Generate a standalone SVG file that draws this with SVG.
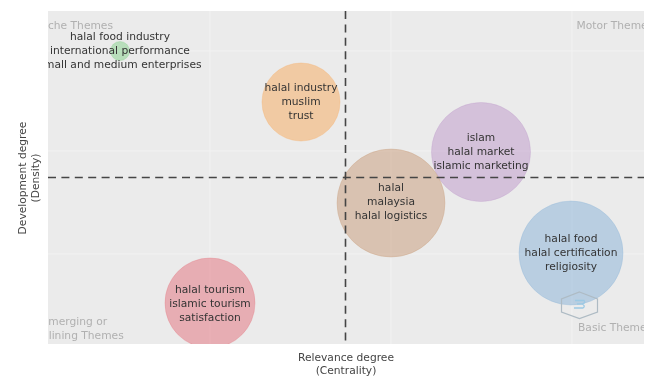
<svg xmlns="http://www.w3.org/2000/svg" width="651" height="376" viewBox="0 0 651 376">
<style>
text{font-family:"DejaVu Sans",Verdana,sans-serif;font-size:10.7px;fill:#333;text-anchor:middle}
.q{fill:#b0b0b0;text-anchor:start}
.ax{fill:#444}
.grid{stroke:#f2f2f2;stroke-width:1;fill:none}
.dash{stroke:#444;stroke-width:1.6;stroke-dasharray:8 5.4;fill:none}
.b{stroke-width:1;stroke-opacity:.3;fill-opacity:.5}
</style>
<defs>
<clipPath id="plot"><rect x="48" y="11" width="596" height="333"/></clipPath>
<filter id="soft" x="0" y="0" width="100%" height="100%"><feGaussianBlur stdDeviation="0.35"/></filter>
</defs>
<rect width="651" height="376" fill="#fff"/>
<g filter="url(#soft)">
<rect id="panel" x="48" y="11" width="596" height="333" fill="#ebebeb"/>
<g id="gridlines" class="grid">
<path d="M210 11V344M391 11V344M572 11V344M48 51H644M48 151H644M48 254H644"/>
</g>
<g clip-path="url(#plot)">
<g id="quadrant-labels">
<text class="q" x="37" y="29">Niche Themes</text>
<text class="q" x="576.500" y="29">Motor Themes</text>
<text class="q" x="41.500" y="325">Emerging or</text>
<text class="q" x="28" y="339">Declining Themes</text>
<text class="q" x="578" y="331">Basic Themes</text>
</g>
<g id="node-red">
<circle class="b" cx="210" cy="303" r="45" fill="#e46f7c" stroke="#e46f7c"/>
<text x="210" y="293">halal tourism</text><text x="210" y="307">islamic tourism</text><text x="210" y="321">satisfaction</text>
</g>
<g id="node-green">
<circle class="b" cx="120" cy="51" r="9.500" fill="#86d18c" stroke="#86d18c"/>
<text x="120" y="40">halal food industry</text><text x="120" y="54">international performance</text><text x="120" y="68">small and medium enterprises</text>
</g>
<g id="node-orange">
<circle class="b" cx="301" cy="102" r="39" fill="#f7a95c" stroke="#f7a95c"/>
<text x="301" y="91">halal industry</text><text x="301" y="105">muslim</text><text x="301" y="119">trust</text>
</g>
<g id="node-purple">
<circle class="b" cx="481" cy="152" r="49.500" fill="#bd98c9" stroke="#bd98c9"/>
<text x="481" y="141">islam</text><text x="481" y="155">halal market</text><text x="481" y="169">islamic marketing</text>
</g>
<g id="node-brown">
<circle class="b" cx="391" cy="203" r="54" fill="#c89a78" stroke="#c89a78"/>
<text x="391" y="191">halal</text><text x="391" y="205">malaysia</text><text x="391" y="219">halal logistics</text>
</g>
<g id="node-blue">
<circle class="b" cx="571" cy="253" r="52" fill="#87b2d8" stroke="#87b2d8"/>
<text x="571" y="242">halal food</text><text x="571" y="256">halal certification</text><text x="571" y="270">religiosity</text>
</g>
<g id="connectors">
<path class="dash" d="M345.500 11V344"/>
<path class="dash" d="M48 177.500H644"/>
</g>
<g id="watermark" fill="none">
<path d="M579.500 292L597.500 299V312L579.500 318.500L561.500 312V299Z" stroke="#aebbc4" stroke-width="1.200"/>
<path d="M575 300.500H584Q586 303 582 304H577M582 304Q586 306 583 308H574" stroke="#9cc9e4" stroke-width="1.300"/>
</g>
</g>
<g id="axis-labels">
<text class="ax" x="346" y="361">Relevance degree</text>
<text class="ax" x="346" y="374">(Centrality)</text>
<text class="ax" transform="translate(26 178) rotate(-90)">Development degree</text>
<text class="ax" transform="translate(39 178) rotate(-90)">(Density)</text>
</g>
</g>
</svg>
